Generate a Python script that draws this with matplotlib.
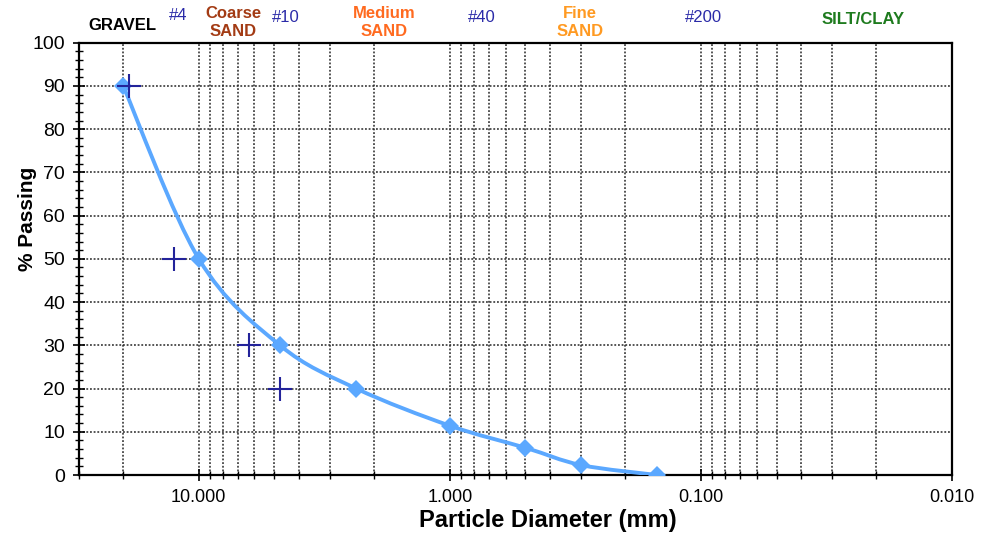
import matplotlib
matplotlib.use("Agg")
import matplotlib.pyplot as plt
import numpy as np
from matplotlib.path import Path
from matplotlib.patches import PathPatch
from matplotlib.ticker import (LogLocator, FixedLocator, FixedFormatter,
                               MultipleLocator, NullFormatter)

plt.rcParams["font.family"] = ["Liberation Sans", "DejaVu Sans"]

# gradation curve (sieve analysis)
diam_mm = [20.0, 10.0, 4.75, 2.36, 1.0, 0.5, 0.3, 0.15]
passing = [90.0, 50.0, 30.0, 20.0, 11.4, 6.3, 2.3, 0.0]

# specification points
spec_mm = [19.0, 12.5, 6.3, 4.75]
spec_pass = [90.0, 50.0, 30.0, 20.0]

x_ticks = [10.0, 1.0, 0.1, 0.01]
x_ticklabels = ["10.000", "1.000", "0.100", "0.010"]

# soil class / sieve captions above the plot: (text, x in px, y in px, colour, bold)
captions = [
    ("GRAVEL", 122, 26, "black", True),
    ("#4", 178, 16, "#2B2BA8", False),
    ("Coarse\nSAND", 233, 23, "#A33B14", True),
    ("#10", 286, 17, "#2B2BA8", False),
    ("Medium\nSAND", 384, 23, "#FF6A1F", True),
    ("#40", 482, 17, "#2B2BA8", False),
    ("Fine\nSAND", 580, 23, "#FF9A22", True),
    ("#200", 703, 18, "#2B2BA8", False),
    ("SILT/CLAY", 863, 19, "#1E7B1E", True),
]

W, H = 988, 534
fig = plt.figure(figsize=(W / 100, H / 100), dpi=100)
ax = fig.add_axes([79 / W, 1 - 475 / H, (952 - 79) / W, (475 - 42.7) / H])

ax.set_xscale("log")
ax.set_xlim(30, 0.01)
ax.set_ylim(0, 100)

# smoothed line: Catmull-Rom bezier in log-x space
lx = np.log10(diam_mm)
py = np.array(passing)
pts = np.column_stack([lx, py])
verts = [pts[0]]
codes = [Path.MOVETO]
n = len(pts)
for i in range(n - 1):
    p0 = pts[i - 1] if i > 0 else pts[i]
    p1, p2 = pts[i], pts[i + 1]
    p3 = pts[i + 2] if i + 2 < n else pts[i + 1]
    c1 = p1 + (p2 - p0) / 6
    c2 = p2 - (p3 - p1) / 6
    verts += [c1, c2, p2]
    codes += [Path.CURVE4] * 3
verts = np.array(verts)
verts[:, 0] = 10 ** verts[:, 0]
ax.add_patch(PathPatch(Path(verts, codes), fill=False, edgecolor="#5BA8FF",
                       lw=2.8, capstyle="round", joinstyle="round", zorder=3))
ax.plot(diam_mm, passing, ls="none", marker="D", ms=9, color="#5BA8FF",
        mew=0, zorder=4)

ax.plot(spec_mm, spec_pass, ls="none", marker="+", ms=17, mew=1.5,
        color="#23239A", zorder=5)

# ticks and grid
ax.xaxis.set_major_locator(FixedLocator(x_ticks))
ax.xaxis.set_major_formatter(FixedFormatter(x_ticklabels))
ax.xaxis.set_minor_locator(LogLocator(base=10, subs=np.arange(2, 10), numticks=20))
ax.xaxis.set_minor_formatter(NullFormatter())
ax.yaxis.set_major_locator(MultipleLocator(10))
ax.yaxis.set_minor_locator(MultipleLocator(2))

ax.tick_params(axis="both", which="major", direction="inout", length=8, width=1.2,
               labelsize=13, color="black")
ax.tick_params(axis="both", which="minor", direction="inout", length=6, width=1.0,
               color="black")
ax.tick_params(axis="x", which="major", pad=6)
ax.tick_params(axis="y", which="major", pad=6, labelsize=14)

grid_style = dict(color="#262626", ls=(0, (1.2, 1.2)), lw=1.1)
ax.grid(True, which="major", axis="both", **grid_style)
ax.grid(True, which="minor", axis="x", **grid_style)
ax.set_axisbelow(True)

for s in ax.spines.values():
    s.set_linewidth(1.6)
    s.set_color("black")

ax.set_xlabel("Particle Diameter (mm)", fontsize=17, fontweight="bold", va="top")
ax.xaxis.set_label_coords((548 - 79) / 873, (475 - 509) / 432.3)
ax.set_ylabel("% Passing", fontsize=15, fontweight="bold")
ax.yaxis.set_label_coords((37 - 79) / 873, (475 - 219) / 432.3)

for text, xp, yp, col, bold in captions:
    fig.text(xp / W, 1 - yp / H, text, ha="center", va="center", color=col,
             fontsize=12, fontweight="bold" if bold else "normal", linespacing=1.25)

fig.savefig("out.png", dpi=100)
